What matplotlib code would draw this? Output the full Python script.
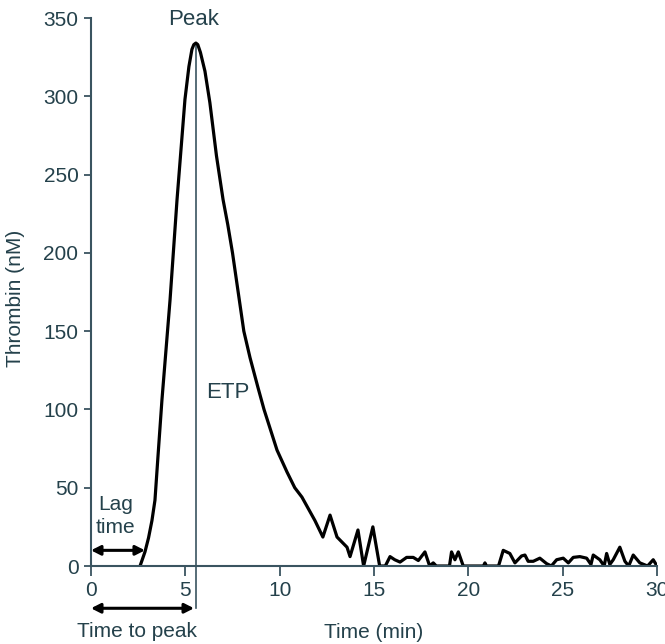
import numpy as np
import matplotlib
matplotlib.use('Agg')
import matplotlib.pyplot as plt

plt.rcParams['font.family'] = ['Liberation Sans', 'DejaVu Sans']

# thrombin generation curve
time_min = [2.6, 2.86, 3.05, 3.23, 3.39, 3.55, 3.76, 4.19, 4.56, 4.98, 5.19, 5.35, 5.45, 5.56,
            5.66, 5.8, 6.04, 6.3, 6.65, 7.0, 7.25, 7.5, 8.1, 8.43, 8.85, 9.17, 9.86, 10.39,
            10.8, 11.18, 11.87, 12.29, 12.67, 13.04, 13.57, 13.73, 14.15, 14.45, 14.94, 15.3,
            15.6, 15.85, 16.1, 16.38, 16.73, 17.08, 17.35, 17.7, 17.95, 18.14, 18.3,
            19.0, 19.11, 19.29, 19.47, 19.73, 20.8, 20.88, 20.96, 21.6, 21.85, 22.2,
            22.47, 22.82, 23.0, 23.17, 23.44, 23.79, 24.15, 24.4, 24.68, 25.03, 25.3,
            25.56, 25.91, 26.27, 26.5, 26.62, 26.97, 27.2, 27.33, 27.5, 27.68, 28.03,
            28.3, 28.5, 28.74, 29.09, 29.5, 29.8, 30.0]
thrombin_nM = [0, 9, 18, 29, 42, 70, 106, 170, 234, 298, 319, 330, 333, 334,
               333, 328, 316, 296, 262, 234, 218, 200, 150, 133, 114, 100, 74, 60,
               50, 44, 29, 18.5, 32.5, 18.5, 12, 6, 23, 0, 25, 0,
               0, 6, 4, 2.5, 5.5, 5.5, 3.5, 9, 0, 2, 0,
               0, 9, 4, 9, 0, 0, 2, 0, 0, 10, 8,
               2, 6.4, 7, 3, 3, 5, 1.5, 0, 4, 5, 2,
               5.5, 6, 5, 1, 7, 4, 0, 8, 1, 4, 12,
               3, 0, 7, 2, 0, 4, 0]

peak_time = 5.56
peak_value = 334
lag_time = 2.86

x_ticks = [0, 5, 10, 15, 20, 25, 30]
y_ticks = [0, 50, 100, 150, 200, 250, 300, 350]

text_col = '#24414b'
axis_col = '#3a5460'

fig = plt.figure(figsize=(6.65, 6.44), dpi=100)
ax = fig.add_axes([91 / 665, 78 / 644, 566 / 665, 548 / 644])

ax.plot(time_min, thrombin_nM, color='black', lw=2.3, solid_joinstyle='round', zorder=3)

# vertical line at peak, running below the axis
ax.plot([peak_time, peak_time], [peak_value, -27], color=axis_col, lw=1.2,
        clip_on=False, zorder=2)

ax.set_xlim(0, 30)
ax.set_ylim(0, 350)
ax.set_xticks(x_ticks)
ax.set_yticks(y_ticks)
for s in ['top', 'right']:
    ax.spines[s].set_visible(False)
for s in ['left', 'bottom']:
    ax.spines[s].set_color(axis_col)
    ax.spines[s].set_linewidth(1.5)
    ax.spines[s].set_zorder(4)
ax.tick_params(colors=axis_col, labelcolor=text_col, labelsize=15, width=1.3)
ax.tick_params(axis='x', length=7, pad=4)
ax.tick_params(axis='y', length=5, pad=4)

ax.set_ylabel('Thrombin (nM)', fontsize=15, color=text_col)
ax.yaxis.set_label_coords(-0.1166, 0.489)
ax.set_xlabel('Time (min)', fontsize=15, color=text_col, labelpad=16)

ax.text(5.45, 349, 'Peak', fontsize=16, color=text_col, ha='center', va='center', clip_on=False)
ax.text(7.25, 111, 'ETP', fontsize=16, color=text_col, ha='center', va='center')
ax.text(1.3, 32, 'Lag\ntime', fontsize=15, color=text_col, ha='center', va='center',
        linespacing=1.25)

arrow = dict(arrowstyle='<|-|>,head_length=0.55,head_width=0.28', color='black', lw=2.2,
             shrinkA=0, shrinkB=0)
ax.annotate('', xy=(0, 10), xytext=(lag_time, 10), arrowprops=arrow)
ax.annotate('', xy=(0, -27), xytext=(peak_time - 0.1, -27), arrowprops=arrow,
            annotation_clip=False)
ax.text(2.44, -42, 'Time to peak', fontsize=15, color=text_col, ha='center', va='center',
        clip_on=False)

fig.savefig('out.png', dpi=100)
